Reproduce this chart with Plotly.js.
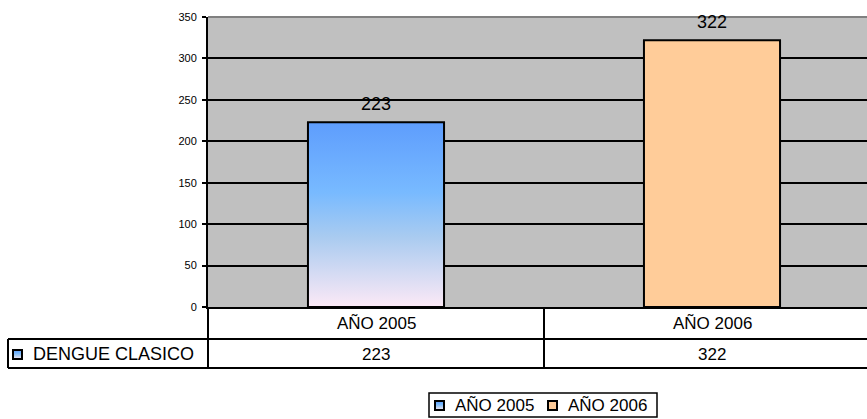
<!DOCTYPE html>
<html>
<head>
<meta charset="utf-8">
<script src="https://cdn.plot.ly/plotly-3.0.1.min.js"></script>
<style>
  html, body { margin: 0; padding: 0; background: #ffffff; }
  #chart { width: 867px; height: 419px; }
</style>
</head>
<body>
<div id="chart"></div>
<script>
// ---- data ----
const categories = ['AÑO 2005', 'AÑO 2006'];
const seriesName = 'DENGUE CLASICO';
const values = [223, 322];
const yTickVals = [0, 50, 100, 150, 200, 250, 300, 350];
const yTickText = ['0', '50', '100', '150', '200', '250', '300', '350'];
const barColors = ['#5F9FFE', '#FFCC99'];

// ---- layout geometry (pixels) ----
const W = 867, H = 419;
const mL = 208, mR = 0, mT = 17, mB = 112;
const plotW = W - mL - mR, plotH = H - mT - mB;
const px = (x) => (x - mL) / plotW;        // pixel x -> paper x
const py = (y) => (H - mB - y) / plotH;     // pixel y -> paper y

const FONT = 'Liberation Sans, Arial, sans-serif';

const trace = {
  type: 'bar',
  x: categories,
  y: values,
  name: seriesName,
  width: 0.405,
  marker: { color: barColors, line: { color: '#000000', width: 2 } },
  hoverinfo: 'skip',
  showlegend: false
};

const shapes = [];
const annotations = [];
const lineStyle = { color: '#000000', width: 2 };

// top border of plot area (gray)
shapes.push({ type: 'line', xref: 'paper', yref: 'paper', x0: 0, x1: 1, y0: 1, y1: 1,
  line: { color: '#808080', width: 2 }, layer: 'above' });

// data labels above bars
values.forEach((v, i) => {
  annotations.push({ x: categories[i], y: v, xref: 'x', yref: 'y', text: String(v),
    showarrow: false, yanchor: 'middle', yshift: 18.5,
    font: { family: FONT, size: 18, color: '#000000' } });
});

// ---- data table ----
const rowTop = py(307), rowMid = py(339), rowBot = py(368);
const tableLeft = px(8);
shapes.push({ type: 'line', xref: 'paper', yref: 'paper', x0: tableLeft, x1: 1, y0: rowMid, y1: rowMid, line: lineStyle });
shapes.push({ type: 'line', xref: 'paper', yref: 'paper', x0: tableLeft, x1: 1, y0: rowBot, y1: rowBot, line: lineStyle });
shapes.push({ type: 'line', xref: 'paper', yref: 'paper', x0: tableLeft, x1: tableLeft, y0: rowMid, y1: rowBot, line: lineStyle });
shapes.push({ type: 'line', xref: 'paper', yref: 'paper', x0: 0, x1: 0, y0: rowTop, y1: rowBot, line: lineStyle });
for (let i = 0; i < categories.length - 1; i++) {
  shapes.push({ type: 'line', xref: 'x', yref: 'paper', x0: i + 0.5, x1: i + 0.5, y0: rowTop, y1: rowBot, line: lineStyle });
}
categories.forEach((c, i) => {
  annotations.push({ x: c, xref: 'x', y: py(323), yref: 'paper', text: c, showarrow: false,
    xanchor: 'center', yanchor: 'middle', font: { family: FONT, size: 17, color: '#000000' } });
  annotations.push({ x: c, xref: 'x', y: py(354), yref: 'paper', text: String(values[i]), showarrow: false,
    xanchor: 'center', yanchor: 'middle', font: { family: FONT, size: 17, color: '#000000' } });
});
// series label with key
shapes.push({ type: 'rect', xref: 'paper', yref: 'paper', x0: px(13), x1: px(22), y0: py(359), y1: py(350),
  fillcolor: barColors[0], line: { color: '#000000', width: 2 } });
annotations.push({ x: px(31), xref: 'paper', y: py(354), yref: 'paper', text: seriesName, showarrow: false,
  xanchor: 'left', yanchor: 'middle', font: { family: FONT, size: 18, color: '#000000' } });

// ---- legend ----
shapes.push({ type: 'rect', xref: 'paper', yref: 'paper', x0: px(429), x1: px(657), y0: py(417), y1: py(393),
  fillcolor: '#ffffff', line: { color: '#000000', width: 1.5 } });
const legendKeyX = [435, 548];
const legendTextX = [453, 566];
categories.forEach((c, i) => {
  shapes.push({ type: 'rect', xref: 'paper', yref: 'paper', x0: px(legendKeyX[i]), x1: px(legendKeyX[i] + 9),
    y0: py(410), y1: py(401), fillcolor: barColors[i], line: { color: '#000000', width: 2 } });
  annotations.push({ x: px(legendTextX[i]), xref: 'paper', y: py(405.5), yref: 'paper', text: c, showarrow: false,
    xanchor: 'left', yanchor: 'middle', font: { family: FONT, size: 17, color: '#000000' } });
});

const layout = {
  width: W, height: H,
  margin: { l: mL, r: mR, t: mT, b: mB, pad: 0 },
  paper_bgcolor: '#ffffff',
  plot_bgcolor: '#c0c0c0',
  showlegend: false,
  font: { family: FONT, color: '#000000' },
  xaxis: {
    type: 'category',
    range: [-0.5, -0.5 + plotW / 336],
    showticklabels: false, ticks: '', showgrid: false, zeroline: false,
    showline: true, linecolor: '#000000', linewidth: 2, fixedrange: true
  },
  yaxis: {
    range: [0, 350],
    tickvals: yTickVals, ticktext: yTickText,
    ticks: 'outside', ticklen: 4, tickwidth: 2, tickcolor: '#000000',
    ticklabelstandoff: 3,
    tickfont: { family: FONT, size: 11, color: '#000000' },
    showgrid: true, gridcolor: '#000000', gridwidth: 2,
    zeroline: false, showline: true, linecolor: '#000000', linewidth: 2, fixedrange: true
  },
  shapes: shapes,
  annotations: annotations,
  bargap: 0
};

Plotly.newPlot('chart', [trace], layout, { displayModeBar: false, staticPlot: true }).then(() => {
  const svg = document.querySelector('#chart .main-svg');
  const NS = 'http://www.w3.org/2000/svg';
  let defs = svg.querySelector('defs');
  if (!defs) { defs = document.createElementNS(NS, 'defs'); svg.insertBefore(defs, svg.firstChild); }
  const grad = document.createElementNS(NS, 'linearGradient');
  grad.setAttribute('id', 'blueGrad');
  grad.setAttribute('x1', '0'); grad.setAttribute('y1', '0');
  grad.setAttribute('x2', '0'); grad.setAttribute('y2', '1');
  [['0', '#5E9DFD'], ['0.38', '#78BAFF'], ['0.62', '#A9CBF0'], ['1', '#FCE9F6']].forEach(([o, c]) => {
    const s = document.createElementNS(NS, 'stop');
    s.setAttribute('offset', o); s.setAttribute('stop-color', c);
    grad.appendChild(s);
  });
  defs.appendChild(grad);
  document.querySelectorAll('#chart path').forEach(p => {
    const f = (p.style.fill || '').replace(/\s/g, '');
    if (f === 'rgb(95,159,254)') p.style.fill = 'url(#blueGrad)';
  });
});
</script>
</body>
</html>
